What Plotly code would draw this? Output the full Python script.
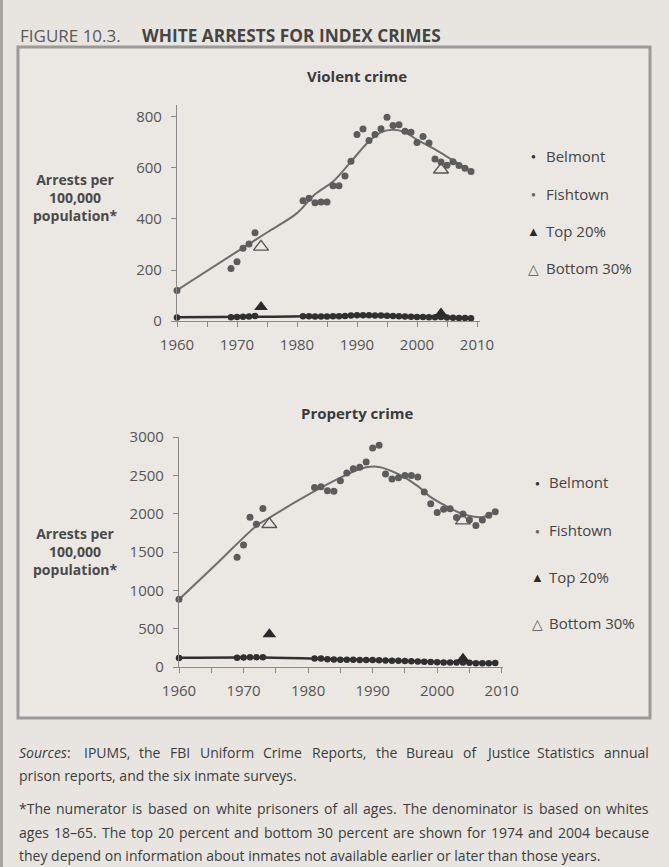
import plotly.graph_objects as go

# ---------------- data ----------------
years = [1960, 1969, 1970, 1971, 1972, 1973] + list(range(1981, 2010))

fish_violent = [120, 206, 232, 285, 302, 346,
                472, 481, 464, 467, 467, 530, 530, 569, 626, 731, 753, 708, 731, 754,
                799, 767, 770, 744, 740, 700, 723, 698, 635, 623, 611, 624, 610, 599, 586]
belm_violent = [14, 15, 16, 17, 18, 20,
                19, 19, 18, 18, 18, 19, 19, 20, 22, 23, 23, 23, 22, 22,
                21, 20, 19, 18, 17, 16, 16, 15, 15, 16, 14, 13, 12, 12, 11]

fish_property = [885, 1430, 1592, 1954, 1862, 2067,
                 2342, 2351, 2298, 2294, 2429, 2529, 2586, 2604, 2673, 2857, 2891, 2516, 2451, 2468,
                 2499, 2499, 2477, 2281, 2128, 2015, 2058, 2063, 1949, 1997, 1919, 1845, 1919, 1980, 2024]
belm_property = [118, 120, 125, 128, 128, 128,
                 112, 110, 100, 98, 96, 95, 95, 92, 90, 90, 88, 86, 82, 80,
                 78, 74, 72, 70, 66, 62, 60, 58, 58, 60, 56, 50, 48, 50, 52]

# smoothed trend lines
fish_v_trend_years = [1960, 1970, 1975, 1980, 1983, 1986, 1989, 1992, 1994, 1996, 1998, 2000, 2003, 2006, 2009]
fish_v_trend = [121, 272, 347, 423, 497, 547, 625, 705, 740, 750, 740, 711, 673, 630, 588]
belm_v_trend_years = [1960, 1975, 1990, 2000, 2009]
belm_v_trend = [15, 17, 21, 18, 12]

fish_p_trend_years = [1960, 1966, 1972, 1974, 1978, 1982, 1986, 1989, 1991, 1994, 1997, 1999, 2002, 2004, 2007, 2009]
fish_p_trend = [881, 1360, 1840, 1945, 2150, 2340, 2510, 2605, 2610, 2515, 2360, 2215, 2072, 1995, 1955, 2030]
belm_p_trend_years = [1960, 1973, 1985, 1995, 2009]
belm_p_trend = [120, 123, 100, 78, 48]

top20_years_v = [1974, 2004]
top20_violent = [55, 29]
bottom30_years_v = [1960, 1974, 2004]
bottom30_violent = [-8, 291, 593]

top20_years_p = [1974, 2004]
top20_property = [427, 109]
bottom30_years_p = [1974, 2004]
bottom30_property = [1862, 1910]

x_ticks = [1960, 1970, 1980, 1990, 2000, 2010]
v_ticks = [0, 200, 400, 600, 800]
p_ticks = [0, 500, 1000, 1500, 2000, 2500, 3000]

legend_labels = ["Belmont", "Fishtown", "Top 20%", "Bottom 30%"]

# ---------------- style ----------------
W, H = 669, 867
FONT = "Open Sans"
AX = "#8a8a8a"
FISH_C = "#5c5c5c"
BELM_C = "#303030"

def px(x):
    return x / W

def py(y):
    return 1 - y / H

fig = go.Figure()

def add_panel(xa, ya, fv, bv, ftx, ft, btx, bt, t_yrs, t_vals, b_yrs, b_vals):
    fig.add_trace(go.Scatter(x=ftx, y=ft, mode="lines", line=dict(color="#6e6e6e", width=2, shape="spline"),
                             xaxis=xa, yaxis=ya, showlegend=False, hoverinfo="skip"))
    fig.add_trace(go.Scatter(x=years, y=fv, mode="markers", name="Fishtown",
                             marker=dict(color=FISH_C, size=7), xaxis=xa, yaxis=ya,
                             showlegend=False, cliponaxis=False))
    fig.add_trace(go.Scatter(x=btx, y=bt, mode="lines", line=dict(color=BELM_C, width=2.5, shape="spline"),
                             xaxis=xa, yaxis=ya, showlegend=False, hoverinfo="skip"))
    fig.add_trace(go.Scatter(x=years, y=bv, mode="markers", name="Belmont",
                             marker=dict(color=BELM_C, size=6.5), xaxis=xa, yaxis=ya,
                             showlegend=False, cliponaxis=False))
    fig.add_trace(go.Scatter(x=t_yrs, y=t_vals, mode="markers", name="Top 20%",
                             marker=dict(color="#2a2a2a", size=12, symbol="triangle-up"),
                             xaxis=xa, yaxis=ya, showlegend=False, cliponaxis=False))
    fig.add_trace(go.Scatter(x=b_yrs, y=b_vals, mode="markers", name="Bottom 30%",
                             marker=dict(color="#555", size=13, symbol="triangle-up-open",
                                         line=dict(width=1.3, color="#555")),
                             xaxis=xa, yaxis=ya, showlegend=False, cliponaxis=False))

add_panel("x", "y", fish_violent, belm_violent, fish_v_trend_years, fish_v_trend,
          belm_v_trend_years, belm_v_trend, top20_years_v, top20_violent,
          bottom30_years_v, bottom30_violent)
add_panel("x2", "y2", fish_property, belm_property, fish_p_trend_years, fish_p_trend,
          belm_p_trend_years, belm_p_trend, top20_years_p, top20_property,
          bottom30_years_p, bottom30_property)

common_x = dict(showline=True, linecolor=AX, linewidth=1.2, ticks="outside", ticklen=5,
                tickcolor=AX, tickwidth=1.2, tickvals=x_ticks, showgrid=False, zeroline=False,
                automargin=False,
                minor=dict(dtick=5, tick0=1960, ticks="outside", ticklen=5, tickcolor=AX, tickwidth=1.2,
                           showgrid=False),
                tickfont=dict(size=15, color="#555", family=FONT), ticklabelstandoff=5)
common_y = dict(showline=True, linecolor=AX, linewidth=1.2, ticks="outside", ticklen=5,
                tickcolor=AX, tickwidth=1.2, showgrid=False, zeroline=False, automargin=False,
                tickfont=dict(size=15, color="#555", family=FONT), ticklabelstandoff=6)

fig.update_layout(
    template="none",
    width=W, height=H,
    margin=dict(l=0, r=0, t=0, b=0, pad=0, autoexpand=False),
    paper_bgcolor="#e8e5e0",
    plot_bgcolor="rgba(0,0,0,0)",
    font=dict(family=FONT, color="#444"),
    xaxis=dict(domain=[px(177), px(480)], range=[1960, 2010.5], anchor="y", **common_x),
    yaxis=dict(domain=[py(321), py(105)], range=[0, 847], anchor="x", tickvals=v_ticks, **common_y),
    xaxis2=dict(domain=[px(179), px(503)], range=[1960, 2010.2], anchor="y2", **common_x),
    yaxis2=dict(domain=[py(667), py(437)], range=[0, 3000], anchor="x2", tickvals=p_ticks, **common_y),
    showlegend=False,
)

# frame box and page edge
fig.add_shape(type="rect", xref="paper", yref="paper", x0=px(18), x1=px(650), y0=py(718), y1=py(47),
              line=dict(color="#9a9a9a", width=3), fillcolor="#ebe8e3", layer="below")
fig.add_shape(type="rect", xref="paper", yref="paper", x0=0, x1=px(3), y0=0, y1=1,
              line=dict(width=0), fillcolor="#a8a49e", layer="below")

ann = []
def A(text, x, y, size=14, color="#444", xanchor="left", **kw):
    ann.append(dict(text=text, x=px(x), y=py(y), xref="paper", yref="paper", showarrow=False,
                    xanchor=xanchor, yanchor="middle", borderpad=0,
                    font=dict(size=size, color=color, family=FONT), **kw))

A("FIGURE 10.3.", 19, 35, size=17, color="#5a5a5a")
A("<b>WHITE ARRESTS FOR INDEX CRIMES</b>", 141, 35, size=17.3, color="#454545")
A("<b>Violent crime</b>", 357, 76, size=15, color="#3a3a3a", xanchor="center")
A("<b>Property crime</b>", 357, 413, size=15, color="#3a3a3a", xanchor="center")
A("<b>Arrests per<br>100,000<br>population*</b>", 75, 197, size=14, color="#4a4a4a", xanchor="center")
A("<b>Arrests per<br>100,000<br>population*</b>", 75, 551, size=14, color="#4a4a4a", xanchor="center")

legend_glyphs = [("●", 8, "#333"), ("●", 8, "#666"), ("▲", 13, "#2a2a2a"), ("△", 14, "#555")]
for ys, gx, tx in [([156, 194, 231, 268], 533, 545), ([482, 530, 577, 623], 537, 548)]:
    for (g, gs, gc), lab, yy in zip(legend_glyphs, legend_labels, ys):
        A(g, gx, yy, size=gs, color=gc, xanchor="center")
        A(lab, tx, yy, size=15, color="#444")

# ---- footnote text, justified lines built word by word ----
CW = {' ': .260, 'a': .556, 'b': .613, 'c': .476, 'd': .613, 'e': .561, 'f': .339, 'g': .548,
      'h': .614, 'i': .253, 'j': .253, 'k': .525, 'l': .253, 'm': .930, 'n': .614, 'o': .604,
      'p': .613, 'q': .613, 'r': .408, 's': .477, 't': .353, 'u': .614, 'v': .501, 'w': .778,
      'x': .524, 'y': .502, 'z': .477, 'A': .633, 'B': .648, 'C': .631, 'D': .729, 'E': .556,
      'F': .516, 'G': .728, 'H': .738, 'I': .279, 'J': .267, 'K': .614, 'L': .519, 'M': .903,
      'N': .754, 'O': .779, 'P': .602, 'Q': .779, 'R': .618, 'S': .549, 'T': .553, 'U': .728,
      'V': .595, 'W': .926, 'X': .577, 'Y': .560, 'Z': .571, ',': .245, '.': .266, ':': .266,
      '*': .547, '–': .5, '-': .322, '%': .83}
for d in "0123456789":
    CW[d] = .572

FS = 14
def tw(s):
    return sum(CW.get(c, .55) for c in s) * FS

LEFT, RIGHT = 18, 648
notes = [
    ("Sources: IPUMS, the FBI Uniform Crime Reports, the Bureau of Justice Statistics annual", 752, True),
    ("prison reports, and the six inmate surveys.", 775, False),
    ("*The numerator is based on white prisoners of all ages. The denominator is based on whites", 808, True),
    ("ages 18–65. The top 20 percent and bottom 30 percent are shown for 1974 and 2004 because", 832, True),
    ("they depend on information about inmates not available earlier or later than those years.", 855, False),
]
for line, yy, justify in notes:
    if not justify:
        A(line, LEFT, yy, size=FS, color="#3c3c3c")
        continue
    words = line.split(" ")
    widths = [tw(w) for w in words]
    gap = (RIGHT - LEFT - sum(widths)) / (len(words) - 1)
    xcur = LEFT
    for w, wd in zip(words, widths):
        txt = "<i>Sources</i>:" if w == "Sources:" else w
        A(txt, xcur, yy, size=FS, color="#3c3c3c")
        xcur += wd + gap

fig.update_layout(annotations=ann)
fig.write_html("out.html", config={"displayModeBar": False},
               post_script="document.body.style.margin='0';document.body.style.background='#e8e5e0';")
